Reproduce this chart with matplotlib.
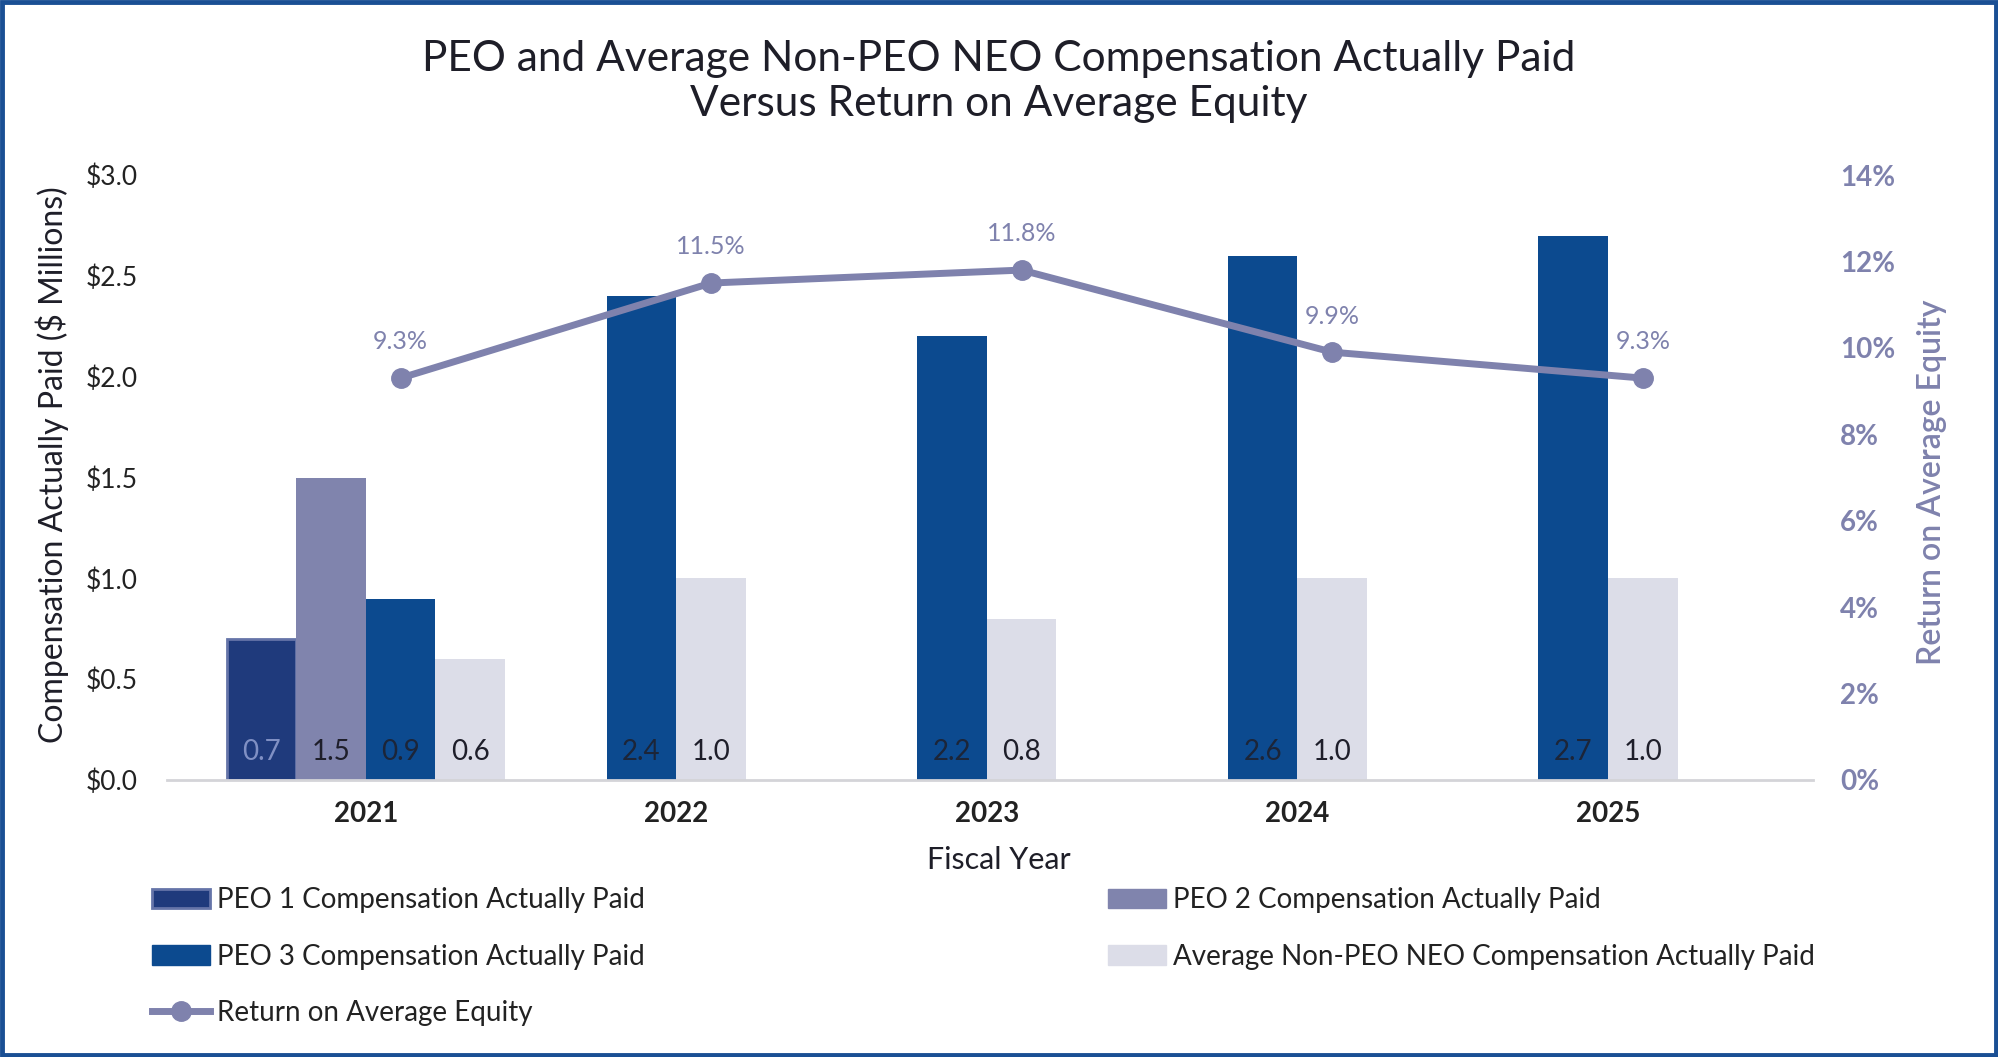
import matplotlib
matplotlib.use("Agg")
import matplotlib.pyplot as plt
from matplotlib.patches import Rectangle, Patch
from matplotlib.lines import Line2D
from matplotlib.ticker import FuncFormatter, MultipleLocator

plt.rcParams['font.family'] = ['Lato', 'DejaVu Sans']

# ---- data ----
years = ['2021', '2022', '2023', '2024', '2025']
peo1 = [0.7, None, None, None, None]
peo2 = [1.5, None, None, None, None]
peo3 = [0.9, 2.4, 2.2, 2.6, 2.7]
non_peo = [0.6, 1.0, 0.8, 1.0, 1.0]
roe = [9.3, 11.5, 11.8, 9.9, 9.3]

series_names = ['PEO 1 Compensation Actually Paid', 'PEO 2 Compensation Actually Paid',
                'PEO 3 Compensation Actually Paid', 'Average Non-PEO NEO Compensation Actually Paid']
line_name = 'Return on Average Equity'

# ---- style ----
c_peo1 = '#1f3a7c'
c_peo1_edge = '#6574a8'
c_peo2 = '#8084ad'
c_peo3 = '#0c4a8f'
c_non = '#dcdde8'
c_line = '#7f82ad'
c_text = '#1e1e28'
label_colors = ['#8090c4', '#1e1e2a', '#1c2538', '#1e1e2a']
series = [peo1, peo2, peo3, non_peo]
colors = [c_peo1, c_peo2, c_peo3, c_non]
edges = [c_peo1_edge, c_peo2, c_peo3, c_non]

W, H = 1998, 1057
fig = plt.figure(figsize=(W/100, H/100), dpi=100)
ax = fig.add_axes([167/W, 1-780/H, (1813-167)/W, (780-175)/H])
ax2 = ax.twinx()

w = 0.224
for i, yr in enumerate(years):
    present = [k for k in range(4) if series[k][i] is not None]
    n = len(present)
    for j, k in enumerate(present):
        xpos = i + (j - (n - 1) / 2) * w
        v = series[k][i]
        lw = 2 if k == 0 else 0
        ax.bar(xpos, v, width=w, color=colors[k], edgecolor=edges[k], linewidth=lw, zorder=2)
        ax.annotate(f'{v:.1f}', xy=(xpos, 0), xytext=(0, 20), textcoords='offset points',
                    ha='center', va='center', fontsize=20, color=label_colors[k], zorder=4)

line_x = [i + w / 2 for i in range(len(years))]
ax2.plot(line_x, roe, color=c_line, linewidth=5, marker='o', markersize=14, zorder=5)
for xv, v in zip(line_x, roe):
    ax2.annotate(f'{v:.1f}%', xy=(xv, v), xytext=(0, 26), textcoords='offset points',
                 ha='center', va='center', fontsize=18, color=c_line)

ax.set_xlim(-0.64, 4.66)
ax.set_ylim(0, 3.0)
ax2.set_ylim(0, 14)
ax.yaxis.set_major_locator(MultipleLocator(0.5))
ax2.yaxis.set_major_locator(MultipleLocator(2))
ax.yaxis.set_major_formatter(FuncFormatter(lambda v, p: f'${v:.1f}'))
ax2.yaxis.set_major_formatter(FuncFormatter(lambda v, p: f'{v:.0f}%'))

ax.set_xticks(range(len(years)))
ax.set_xticklabels(years, fontsize=20, fontweight='bold', color='#222222')
ax.tick_params(axis='x', length=0, pad=15)
ax.tick_params(axis='y', length=0, labelsize=19, labelcolor='#222222', pad=21)
ax2.tick_params(axis='y', length=0, labelsize=20, labelcolor=c_line, pad=19.5)
for lab in ax2.get_yticklabels():
    lab.set_fontweight('bold')

for a in (ax, ax2):
    for s in ['top', 'left', 'right', 'bottom']:
        a.spines[s].set_visible(False)
ax.axhline(0, color='#d4d4d8', linewidth=2, zorder=3, clip_on=False)

fig.text(0.5, 1-860/H, 'Fiscal Year', ha='center', va='center', fontsize=22, color=c_text)
fig.text(52/W, 1-465/H, 'Compensation Actually Paid ($ Millions)', rotation=90,
         ha='center', va='center', fontsize=23, color=c_text)
fig.text(1932/W, 1-482/H, 'Return on Average Equity', rotation=90,
         ha='center', va='center', fontsize=23, color=c_line, fontweight='semibold')

fig.text(0.5, 1-59/H, 'PEO and Average Non-PEO NEO Compensation Actually Paid',
         ha='center', va='center', fontsize=30.5, color=c_text)
fig.text(0.5, 1-104/H, 'Versus Return on Average Equity',
         ha='center', va='center', fontsize=30.5, color=c_text)

# legend
h_peo1 = Patch(facecolor=c_peo1, edgecolor=c_peo1_edge, linewidth=2)
h_peo2 = Patch(facecolor=c_peo2, edgecolor=c_peo2)
h_peo3 = Patch(facecolor=c_peo3, edgecolor=c_peo3)
h_non = Patch(facecolor=c_non, edgecolor=c_non)
h_line = Line2D([0], [0], color=c_line, linewidth=5, marker='o', markersize=14)
leg_kw = dict(frameon=False, fontsize=20, handlelength=2.1, handletextpad=0.25,
              labelspacing=1.1, loc='upper left', borderaxespad=0, borderpad=0,
              labelcolor='#222222')
fig.legend([h_peo1, h_peo3, h_line], [series_names[0], series_names[2], line_name],
           bbox_to_anchor=(152/W, 1-887/H), **leg_kw)
fig.legend([h_peo2, h_non], [series_names[1], series_names[3]],
           bbox_to_anchor=(1108/W, 1-887/H), **leg_kw)

# border
fig.patches.append(Rectangle((0.001, 0.002), 0.998, 0.996, transform=fig.transFigure,
                             fill=False, edgecolor='#1a4f94', linewidth=3.5))

fig.savefig('out.png', dpi=100, facecolor='white')
